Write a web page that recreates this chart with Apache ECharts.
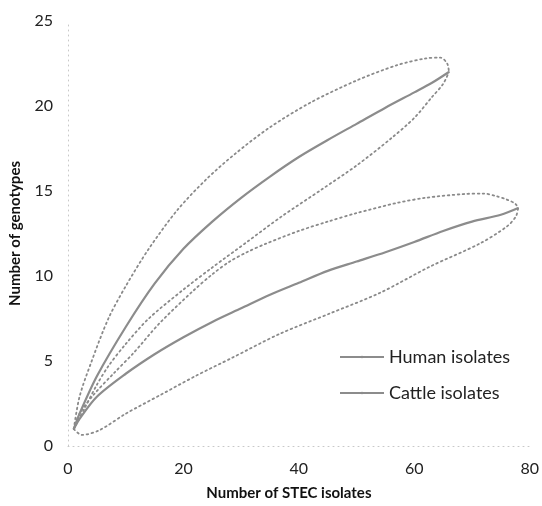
<!DOCTYPE html>
<html>
<head>
<meta charset="utf-8">
<script src="https://cdn.jsdelivr.net/npm/echarts@6/dist/echarts.min.js"></script>
<style>
  html, body { margin: 0; padding: 0; background: #fff; }
  #chart { width: 542px; height: 506px; }
</style>
</head>
<body>
<div id="chart"></div>
<script>
// rarefaction curves, [isolates, genotypes]
const humanMean = [[1, 1], [2, 1.9], [5, 4.1], [10, 7.0], [15, 9.55], [20, 11.6], [25, 13.2], [30, 14.6], [35, 15.85],
  [40, 17.0], [45, 18.0], [50, 18.95], [55, 19.9], [60, 20.8], [63, 21.35], [66, 22]]
const humanUpper = [[1, 1], [2, 2.9], [4, 4.9], [7, 7.5], [10, 9.4], [14, 11.6], [19, 13.9], [24, 15.7], [29, 17.2],
  [35, 18.75], [42, 20.2], [50, 21.5], [57, 22.4], [62, 22.8], [64.5, 22.85], [65.7, 22.5], [66, 22]]
const humanLower = [[1, 1], [3, 2.3], [5, 3.6], [7, 4.7], [10, 6.0], [14, 7.5], [20, 9.2], [25, 10.5], [31, 12.0],
  [37, 13.5], [44, 15.1], [50, 16.5], [56, 18.1], [60, 19.3], [63, 20.5], [65, 21.3], [66, 22]]

const cattleMean = [[1, 1], [2, 1.6], [5, 2.9], [10, 4.25], [15, 5.4], [20, 6.4], [25, 7.3], [30, 8.1], [35, 8.9],
  [40, 9.6], [45, 10.3], [50, 10.85], [55, 11.4], [60, 12.0], [65, 12.65], [70, 13.2], [75, 13.6], [78, 14]]
const cattleUpper = [[1, 1], [2, 1.9], [4.4, 3.0], [8, 4.3], [11.3, 5.45], [15.8, 7.2], [21.6, 9.1], [25, 10.1],
  [28, 10.85], [31, 11.4], [34.3, 11.9], [40, 12.65], [45, 13.2], [50, 13.7], [57, 14.3], [62, 14.6], [68.5, 14.82],
  [72, 14.85], [74.2, 14.7], [76, 14.5], [77.5, 14.25], [78, 14]]
const cattleLower = [[1, 1], [2.4, 0.65], [5.5, 0.94], [10, 1.9], [16, 3.0], [22, 4.1], [28.5, 5.2], [36.7, 6.6],
  [45.4, 7.8], [54, 9.0], [62.7, 10.55], [71.3, 11.9], [76, 12.9], [77.6, 13.5], [78, 14]]

const xTicks = { min: 0, max: 80, interval: 20 }
const yTicks = { min: 0, max: 25, interval: 5 }

const font = 'Lato, "Open Sans", sans-serif'

function meanSeries(name, data) {
  return {
    name: name,
    type: 'line',
    data: data,
    smooth: 0.3,
    symbol: 'none',
    color: '#8c8c8c',
    lineStyle: { width: 2.2, color: '#8c8c8c' },
    z: 3
  }
}

function boundSeries(data) {
  return {
    type: 'line',
    data: data,
    smooth: 0.3,
    symbol: 'none',
    lineStyle: { width: 1.8, color: '#8a8a8a', type: [1.6, 3.4], cap: 'round' },
    z: 2
  }
}

const chart = echarts.init(document.getElementById('chart'))

const option = {
  backgroundColor: '#fff',
  animation: false,
  textStyle: { fontFamily: font },
  grid: { left: 68, right: 11, top: 21, bottom: 60 },
  legend: {
    orient: 'vertical',
    left: 339,
    top: 348,
    padding: 0,
    itemWidth: 44,
    itemHeight: 3,
    itemGap: 18,
    data: ['Human isolates', 'Cattle isolates'],
    textStyle: { fontFamily: font, fontSize: 18, color: '#222' }
  },
  xAxis: {
    type: 'value',
    min: xTicks.min,
    max: xTicks.max,
    interval: xTicks.interval,
    name: 'Number of STEC isolates',
    nameLocation: 'middle',
    nameGap: 40,
    nameTextStyle: { fontFamily: font, fontSize: 15, fontWeight: 'bold', color: '#111', padding: [0, 20, 0, 0] },
    axisLine: { show: true, lineStyle: { color: '#c8c8c8', type: [1, 4] } },
    axisTick: { show: false },
    splitLine: { show: false },
    axisLabel: { fontSize: 16, color: '#222', margin: 15 }
  },
  yAxis: {
    type: 'value',
    min: yTicks.min,
    max: yTicks.max,
    interval: yTicks.interval,
    name: 'Number of genotypes',
    nameLocation: 'middle',
    nameGap: 45,
    nameTextStyle: { fontFamily: font, fontSize: 15, fontWeight: 'bold', color: '#111' },
    axisLine: { show: true, lineStyle: { color: '#c8c8c8', type: [1, 4] } },
    axisTick: { show: false },
    splitLine: { show: false },
    axisLabel: { fontSize: 16, color: '#222', margin: 15 }
  },
  series: [
    meanSeries('Human isolates', humanMean),
    meanSeries('Cattle isolates', cattleMean),
    boundSeries(humanUpper),
    boundSeries(humanLower),
    boundSeries(cattleUpper),
    boundSeries(cattleLower)
  ]
}

option && chart.setOption(option)
</script>
</body>
</html>
